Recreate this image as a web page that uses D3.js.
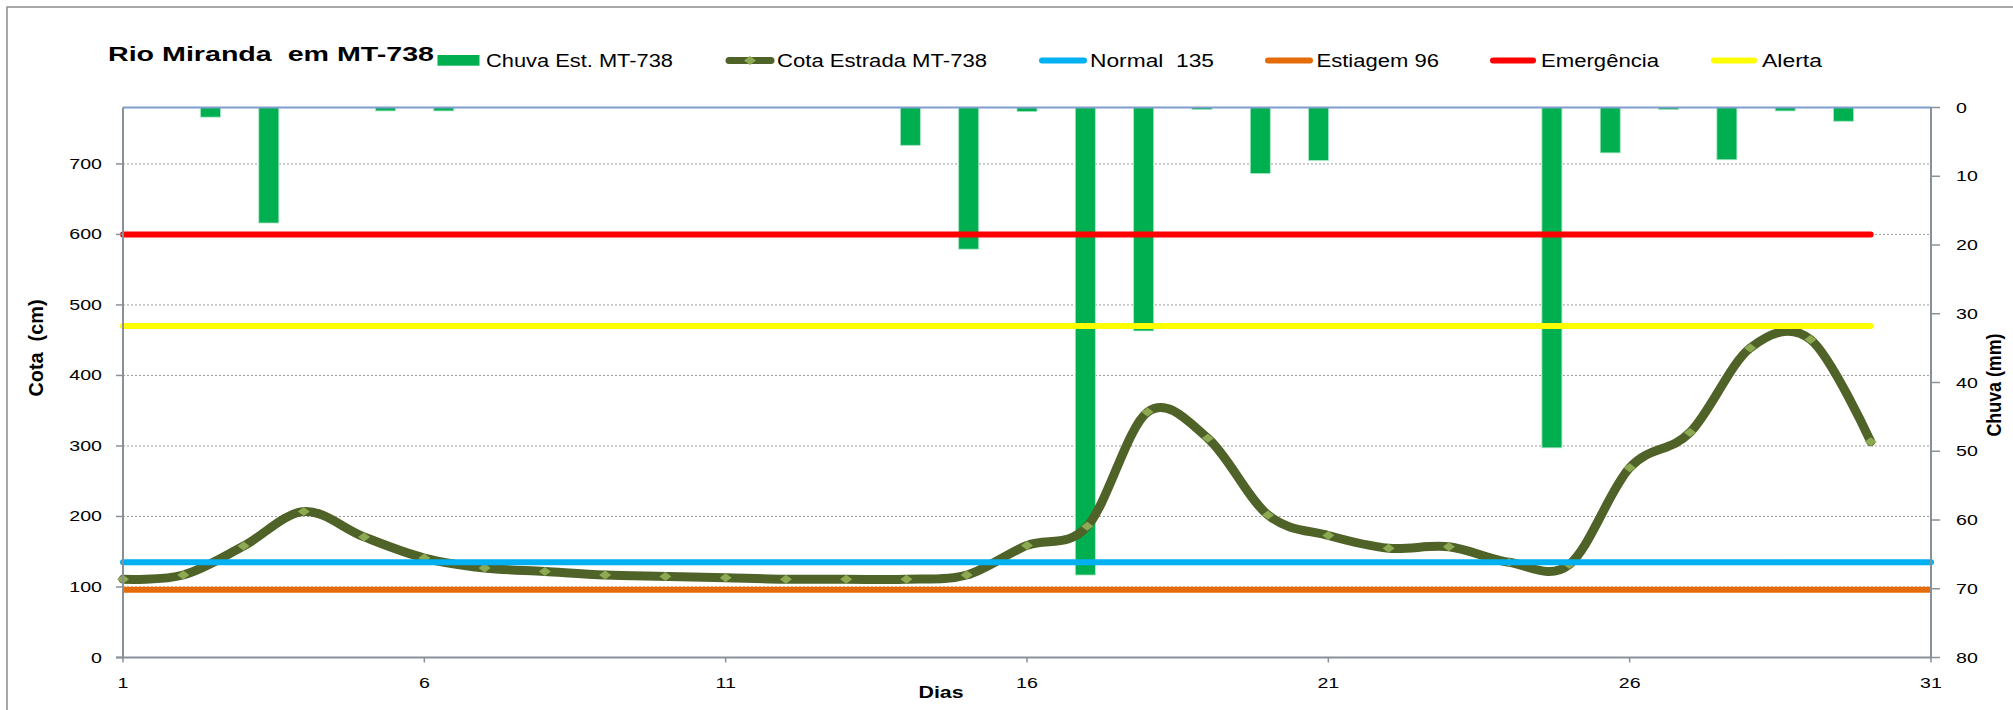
<!DOCTYPE html>
<html><head><meta charset="utf-8">
<script src="https://cdn.jsdelivr.net/npm/d3@7/dist/d3.min.js"></script>
<style>html,body{margin:0;padding:0;background:#fff;}svg{display:block;}</style>
</head><body>
<svg id="c" width="2013" height="710"></svg>
<script>
// ---------- data ----------
const barDays = [1,2,3,4,5,6,7,8,9,10,11,12,13,14,15,16,17,18,19,20,21,22,23,24,25,26,27,28,29,30,31];
const chuva   = [0,1.4,16.8,0,0.5,0.5,0,0,0,0,0,0,0,5.5,20.6,0.6,68,32.5,0.3,9.6,7.7,0,0,0,49.5,6.6,0.3,7.6,0.5,2.0,0];
const cotaDays = [1,2,3,4,5,6,7,8,9,10,11,12,13,14,15,16,17,18,19,20,21,22,23,24,25,26,27,28,29,30];
const cota    = [111,117,158,207,171,141,127,122,117,115,113,111,111,111,117,159,186,348,311,202,173,155,157,135,132,269,319,439,451,306];
const refNames  = ["Normal  135","Estiagem 96","Emergência","Alerta"];
const refValues = [135,96,600,470];
const refEndDay = [31,31,30,30];
const xTicks = [1,6,11,16,21,26,31];
const leftTicks = [0,100,200,300,400,500,600,700];
const rightTicks = [0,10,20,30,40,50,60,70,80];
const title = "Rio Miranda  em MT-738";
const barName = "Chuva Est. MT-738";
const lineName = "Cota Estrada MT-738";

// ---------- styles ----------
const refColors = ["#00B0F0","#E46C0A","#FF0000","#FFFF00"];
const refCaps = ["round","butt","round","round"];
const FONT = "'Liberation Sans', Arial, sans-serif";

const svg = d3.select('#c');
const L=123, R=1931, T=107.5, B=657.5;
const x  = d3.scaleLinear().domain([1,31]).range([L,R]);
const xb = d3.scaleBand().domain(barDays).range([L,R]).paddingInner(0.657).paddingOuter(0.3285);
const yL = d3.scaleLinear().domain([0,780]).range([B,T]);
const yR = d3.scaleLinear().domain([0,80]).range([T,B]);

// frame
svg.append('rect').attr('x',7).attr('y',7).attr('width',2200).attr('height',900)
  .attr('fill','none').attr('stroke','#8c8c8c').attr('stroke-width',1.5);

// gridlines
svg.append('g').selectAll('line').data(leftTicks.filter(v=>v>0)).join('line')
  .attr('x1',L).attr('x2',R).attr('y1',d=>yL(d)).attr('y2',d=>yL(d))
  .attr('stroke','#9a9a9a').attr('stroke-width',1).attr('stroke-dasharray','2,2');

// bars
const bars = barDays.map((d,i)=>({day:d, v:chuva[i]})).filter(d=>d.v>0);
svg.append('g').selectAll('rect').data(bars).join('rect')
  .attr('x',d=>xb(d.day)).attr('y',yR(0)).attr('width',xb.bandwidth())
  .attr('height',d=>yR(d.v)-yR(0))
  .attr('fill','#00B050').attr('stroke','#a8e6c4').attr('stroke-width',0.8);

// cota line
const cdata = cotaDays.map((d,i)=>({day:d, v:cota[i]}));
const lineGen = d3.line().x(d=>x(d.day)).y(d=>yL(d.v)).curve(d3.curveCardinal.tension(0));
svg.append('path').datum(cdata).attr('d',lineGen).attr('fill','none')
  .attr('stroke','#4F6228').attr('stroke-width',9).attr('stroke-linecap','round');
const diamond = "M-6,0L0,-4.5L6,0L0,4.5Z";
svg.append('g').selectAll('path').data(cdata).join('path')
  .attr('d',diamond).attr('transform',d=>`translate(${x(d.day)},${yL(d.v)})`)
  .attr('fill','#8DAA52');

// reference lines
svg.append('g').selectAll('line').data(refValues).join('line')
  .attr('x1',x(1)).attr('x2',(d,i)=>x(refEndDay[i]))
  .attr('y1',d=>yL(d)).attr('y2',d=>yL(d))
  .attr('stroke',(d,i)=>refColors[i]).attr('stroke-width',6)
  .attr('stroke-linecap',(d,i)=>refCaps[i]);

// axes lines
const axisCol = '#8a9099';
svg.append('line').attr('x1',L).attr('x2',R).attr('y1',T).attr('y2',T).attr('stroke','#7f9dcc').attr('stroke-width',2);
svg.append('line').attr('x1',L).attr('x2',L).attr('y1',T).attr('y2',B+1).attr('stroke',axisCol).attr('stroke-width',2);
svg.append('line').attr('x1',R).attr('x2',R).attr('y1',T).attr('y2',B+1).attr('stroke',axisCol).attr('stroke-width',2);
svg.append('line').attr('x1',L-7).attr('x2',R).attr('y1',B).attr('y2',B).attr('stroke',axisCol).attr('stroke-width',2);

// ticks
svg.append('g').selectAll('line').data(leftTicks).join('line')
  .attr('x1',L-7).attr('x2',L).attr('y1',d=>yL(d)).attr('y2',d=>yL(d)).attr('stroke',axisCol).attr('stroke-width',1.5);
svg.append('g').selectAll('line').data(rightTicks).join('line')
  .attr('x1',R).attr('x2',R+9).attr('y1',d=>yR(d)).attr('y2',d=>yR(d)).attr('stroke',axisCol).attr('stroke-width',1.5);
svg.append('g').selectAll('line').data(xTicks).join('line')
  .attr('x1',d=>x(d)).attr('x2',d=>x(d)).attr('y1',B).attr('y2',B+5).attr('stroke',axisCol).attr('stroke-width',1.5);

// tick labels
const SX = 1.4;
svg.append('g').selectAll('text').data(leftTicks).join('text')
  .attr('transform',d=>`translate(102,${yL(d)+5}) scale(${SX},1)`)
  .attr('text-anchor','end').attr('font-family',FONT).attr('font-size',14).attr('fill','#000')
  .text(d=>d);
svg.append('g').selectAll('text').data(rightTicks).join('text')
  .attr('transform',d=>`translate(1956,${yR(d)+5}) scale(${SX},1)`)
  .attr('text-anchor','start').attr('font-family',FONT).attr('font-size',14).attr('fill','#000')
  .text(d=>d);
svg.append('g').selectAll('text').data(xTicks).join('text')
  .attr('transform',d=>`translate(${x(d)},688) scale(${SX},1)`)
  .attr('text-anchor','middle').attr('font-family',FONT).attr('font-size',14).attr('fill','#000')
  .text(d=>d);

// titles
function fitText(t, w){ t.attr('textLength',w).attr('lengthAdjust','spacingAndGlyphs'); return t; }
fitText(svg.append('text').attr('x',108).attr('y',61).attr('font-family',FONT).attr('font-weight','bold')
  .attr('font-size',21).attr('xml:space','preserve').style('white-space','pre').text(title), 326);
fitText(svg.append('text').attr('transform','translate(42.5,348) rotate(-90)').attr('text-anchor','middle')
  .attr('font-family',FONT).attr('font-weight','bold').attr('font-size',20).style('white-space','pre').text("Cota  (cm)"), 97);
fitText(svg.append('text').attr('transform','translate(2001,385) rotate(-90)').attr('text-anchor','middle')
  .attr('font-family',FONT).attr('font-weight','bold').attr('font-size',20).text("Chuva (mm)"), 103);
fitText(svg.append('text').attr('x',941).attr('y',698).attr('text-anchor','middle')
  .attr('font-family',FONT).attr('font-weight','bold').attr('font-size',17).text("Dias"), 45);

// legend
const LY = 60.5, LTY = 66.5;
const lg = svg.append('g');
lg.append('rect').attr('x',437.5).attr('y',55).attr('width',42).attr('height',10.7).attr('fill','#00B050');
fitText(lg.append('text').attr('x',486).attr('y',LTY).attr('font-family',FONT).attr('font-size',17.5).text(barName),187);
lg.append('line').attr('x1',729).attr('x2',771).attr('y1',LY).attr('y2',LY).attr('stroke','#4F6228').attr('stroke-width',7).attr('stroke-linecap','round');
lg.append('path').attr('d',diamond).attr('transform',`translate(750,${LY})`).attr('fill','#8DAA52');
fitText(lg.append('text').attr('x',777).attr('y',LTY).attr('font-family',FONT).attr('font-size',17.5).text(lineName),210);
const legX  = [[1042,1084],[1268,1310],[1493,1533],[1714,1754]];
const legTX = [1090,1316.5,1541,1762];
const legTW = [124,122.5,118,60];
refNames.forEach((n,i)=>{
  lg.append('line').attr('x1',legX[i][0]).attr('x2',legX[i][1]).attr('y1',LY).attr('y2',LY)
    .attr('stroke',refColors[i]).attr('stroke-width',6).attr('stroke-linecap','round');
  fitText(lg.append('text').attr('x',legTX[i]).attr('y',LTY).attr('font-family',FONT).attr('font-size',17.5)
    .style('white-space','pre').text(n), legTW[i]);
});
</script>
</body></html>
